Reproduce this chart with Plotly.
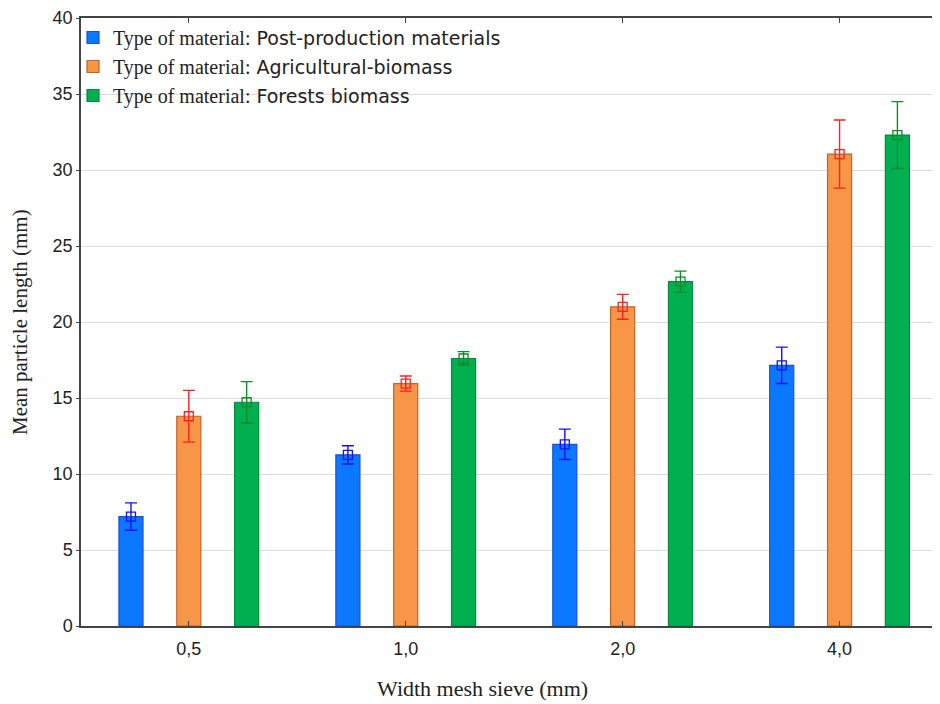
import plotly.graph_objects as go

categories = ["0,5", "1,0", "2,0", "4,0"]
series_names = ["Post-production materials", "Agricultural-biomass", "Forests biomass"]
means_post = [7.2, 11.26, 11.95, 17.15]
err_post = [0.9, 0.6, 1.0, 1.2]
means_agri = [13.8, 15.95, 21.0, 31.05]
err_agri = [1.7, 0.5, 0.82, 2.24]
means_forest = [14.72, 17.6, 22.65, 32.3]
err_forest = [1.36, 0.45, 0.7, 2.2]
y_ticks = [0, 5, 10, 15, 20, 25, 30, 35, 40]

means = [means_post, means_agri, means_forest]
errs = [err_post, err_agri, err_forest]
bar_fill = ["#0a78ff", "#f79646", "#00b050"]
bar_line = ["#1f4fd8", "#c0652a", "#078a3e"]
err_col = ["#1010ff", "#ff2020", "#118a2a"]
offsets = [-0.2666, 0.0, 0.2666]
bar_w = 0.111

idx = list(range(len(categories)))
fig = go.Figure()
for k in range(3):
    xs = [i + offsets[k] for i in idx]
    name = ('<span style="font-family:\'Liberation Serif\';font-size:20px">Type of material:</span>'
            '<span style="font-family:\'DejaVu Sans\';font-size:19px"> ' + series_names[k] + '</span>')
    fig.add_trace(go.Bar(
        x=xs, y=means[k], width=bar_w, name=name,
        marker=dict(color=bar_fill[k], line=dict(color=bar_line[k], width=1.2)),
        legendrank=k,
    ))
    fig.add_trace(go.Scatter(
        x=xs, y=means[k], mode="markers", showlegend=False,
        marker=dict(symbol="square-open", size=9, color=err_col[k], line=dict(width=1.3, color=err_col[k])),
        error_y=dict(type="data", array=errs[k], visible=True, color=err_col[k], thickness=1.4, width=6),
    ))

fig.update_layout(
    width=932, height=696,
    margin=dict(l=73, r=0, t=7, b=78),
    plot_bgcolor="white", paper_bgcolor="white",
    barmode="overlay",
    showlegend=True,
    legend=dict(x=-0.0093, y=1.0, xanchor="left", yanchor="top",
                bgcolor="rgba(255,255,255,0)",
                font=dict(family="DejaVu Sans", size=20, color="#222"),
                tracegroupgap=0),
    font=dict(family="Liberation Sans", color="#222"),
)
fig.update_xaxes(
    range=[-0.497, 3.463], tickvals=idx, ticktext=categories,
    showline=True, linecolor="#444", linewidth=1.5, mirror="ticks",
    ticks="inside", ticklen=5, tickcolor="#444", ticklabelstandoff=6,
    showgrid=False, zeroline=False,
    tickfont=dict(family="Liberation Sans Narrow, Liberation Sans", size=18, color="#222"),
)
fig.update_yaxes(
    range=[0, 40], tickvals=y_ticks, ticklabeloverflow="allow",
    showline=True, linecolor="#444", linewidth=1.5,
    ticks="outside", ticklen=3, tickcolor="#444",
    showgrid=True, gridcolor="#dcdcdc", gridwidth=1.2, zeroline=False,
    tickfont=dict(family="Liberation Sans", size=18, color="#222"),
)
fig.add_annotation(text="Mean particle length (mm)", xref="paper", yref="paper",
                   x=-0.071, y=0.5, xanchor="center", yanchor="middle", textangle=-90,
                   showarrow=False, font=dict(family="Liberation Serif", size=21, color="#222"))
fig.add_annotation(text="Width mesh sieve (mm)", xref="paper", yref="paper",
                   x=0.4677, y=-0.103, xanchor="center", yanchor="middle",
                   showarrow=False, font=dict(family="Liberation Serif", size=22, color="#222"))
fig.write_html("out.html")
